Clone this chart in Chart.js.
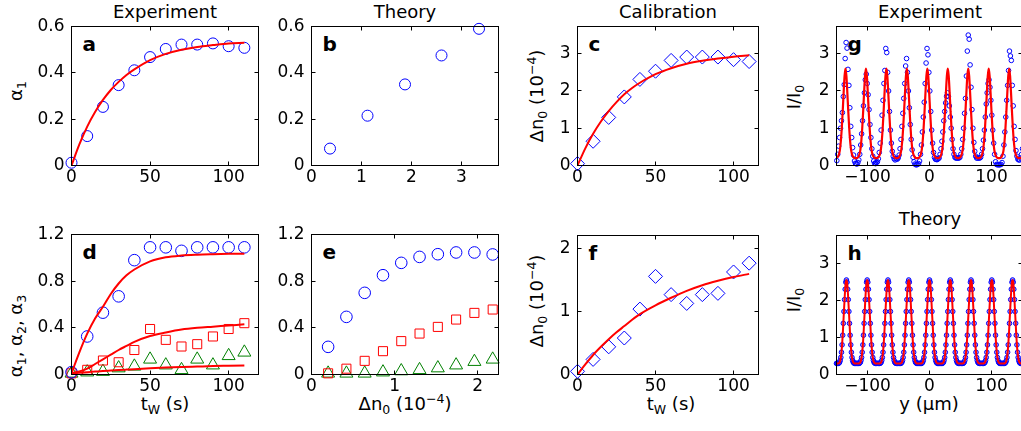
<!DOCTYPE html>
<html><head><meta charset="utf-8">
<script src="https://cdn.jsdelivr.net/npm/chart.js@4.4.1/dist/chart.umd.min.js"></script>
<style>
html,body{margin:0;padding:0;overflow:hidden;background:#fff;}
body{position:relative;width:1021px;height:431px;font-family:"DejaVu Sans",sans-serif;color:#000;}
canvas{position:absolute;}
.t{position:absolute;font-size:18px;line-height:18px;white-space:nowrap;}
.c{transform:translateX(-50%);}
.r{transform:translate(-50%,-50%) rotate(-90deg);}
.lt{position:absolute;font-weight:bold;font-size:20px;line-height:20px;}
sub,sup{font-size:12.5px;line-height:0;}
sub{vertical-align:-4px;} sup{vertical-align:7px;}
</style></head><body>
<div class="t c" style="left:165px;top:2.8px">Experiment</div>
<div class="t c" style="left:405px;top:2.8px">Theory</div>
<div class="t c" style="left:668px;top:2.8px">Calibration</div>
<div class="t c" style="left:930px;top:2.8px">Experiment</div>
<div class="t c" style="left:930px;top:209.6px">Theory</div>

<div class="lt" style="left:82.5px;top:33.6px">a</div>
<div class="lt" style="left:322.5px;top:33.6px">b</div>
<div class="lt" style="left:588.5px;top:33.6px">c</div>
<div class="lt" style="left:847.5px;top:33.6px">g</div>
<div class="lt" style="left:82.5px;top:241.6px">d</div>
<div class="lt" style="left:322.5px;top:241.6px">e</div>
<div class="lt" style="left:588.5px;top:242.6px">f</div>
<div class="lt" style="left:847.5px;top:242.6px">h</div>

<div class="t r" style="left:15.5px;top:91px">α<sub>1</sub></div>
<div class="t r" style="left:537px;top:96px">Δn<sub>0</sub> (10<sup>−4</sup>)</div>
<div class="t r" style="left:794px;top:97px">I/I<sub>0</sub></div>
<div class="t r" style="left:15.5px;top:336px">α<sub>1</sub>, α<sub>2</sub>, α<sub>3</sub></div>
<div class="t r" style="left:537px;top:301px">Δn<sub>0</sub> (10<sup>−4</sup>)</div>
<div class="t r" style="left:794px;top:300px">I/I<sub>0</sub></div>

<div class="t c" style="left:165px;top:394.8px">t<sub>W</sub> (s)</div>
<div class="t c" style="left:405px;top:394.8px">Δn<sub>0</sub> (10<sup>−4</sup>)</div>
<div class="t c" style="left:671px;top:394.8px">t<sub>W</sub> (s)</div>
<div class="t c" style="left:929px;top:394.8px">y (μm)</div>

<script>
// ---------------- DATA ----------------
const tW   = [0,10,20,30,40,50,60,70,80,90,100,110];
const fitT = [0,5,10,15,20,25,30,35,40,50,60,70,80,90,100,110];

// panel a
const alpha1Exp    = [0.012,0.127,0.253,0.347,0.411,0.468,0.503,0.522,0.522,0.527,0.515,0.508];
const alpha1ExpFit = [0,0.091,0.168,0.231,0.283,0.326,0.361,0.391,0.415,0.455,0.482,0.500,0.512,0.520,0.527,0.530];

// panel b
const dn0Theory1 = [0.37,1.12,1.87,2.6,3.35];
const alpha1Th1  = [0.073,0.215,0.35,0.475,0.59];

// panel c
const dn0Cal    = [0.05,0.65,1.29,1.84,2.31,2.53,2.82,2.91,2.91,2.91,2.84,2.79];
const dn0CalFit = [0,0.46,0.85,1.18,1.46,1.70,1.91,2.08,2.22,2.45,2.61,2.73,2.81,2.87,2.92,2.96];

// panel d
const alpha1D = [0.02,0.326,0.53,0.67,0.98,1.09,1.09,1.06,1.09,1.09,1.09,1.09];
const alpha2D = [0.01,0.04,0.12,0.105,0.21,0.39,0.297,0.24,0.26,0.326,0.39,0.44];
const alpha3D = [0.01,0.02,0.025,0.055,0.07,0.13,0.08,0.04,0.13,0.08,0.16,0.19];
const alpha1DFit = [0.01,0.19,0.35,0.48,0.58,0.69,0.78,0.85,0.90,0.97,1.005,1.02,1.027,1.031,1.034,1.036];
const alpha2DFit = [0.01,0.025,0.05,0.09,0.13,0.17,0.21,0.245,0.28,0.33,0.36,0.385,0.40,0.41,0.42,0.43];
const alpha3DFit = [0.01,0.015,0.02,0.025,0.03,0.034,0.038,0.042,0.046,0.053,0.059,0.064,0.068,0.072,0.075,0.078];

// panel e
const dn0E    = [0.2,0.42,0.64,0.86,1.08,1.30,1.52,1.74,1.96,2.18];
const alpha1E = [0.237,0.494,0.70,0.851,0.957,1.008,1.031,1.046,1.046,1.029];
const alpha2E = [0.01,0.05,0.117,0.2,0.286,0.351,0.408,0.471,0.528,0.557];
const alpha3E = [0.01,0.01,0.01,0.02,0.03,0.04,0.055,0.08,0.11,0.13];

// panel f
const dn0Cal2    = [0.05,0.24,0.44,0.58,1.04,1.56,1.27,1.13,1.27,1.29,1.63,1.77];
const dn0Cal2Fit = [0,0.16,0.31,0.44,0.56,0.67,0.77,0.87,0.96,1.10,1.22,1.33,1.42,1.49,1.55,1.60];

// panel g : measured intensity around each fringe (y in µm relative to fringe centre)
const gExpCenters = [-134.5,-102,-70.5,-37,-4,29,62.5,96,129];
const gExpOffsets = [-16.5,-15,-13.5,-12,-10.5,-9,-7.5,-6,-4.5,-3,-1.5,0,1.5,3,4.5,6,7.5,9,10.5,12,13.5,15,16.5,18,19.5,21];
const gExpFringe1 = [0.1,0.13,0.3,0.52,0.75,1.0,1.2,1.42,1.85,2.17,2.87,3.3,3.15,2.58,2.15,1.55,1.05,0.75,0.48,0.28,0.12,0.06];
const gExpFringe2 = [0.05,0.04,0.08,0.15,0.3,0.55,0.85,1.2,1.6,1.95,2.3,2.45,2.2,1.9,1.5,1.1,0.75,0.45,0.25,0.12,0.06,0.05];
const gExpFringe3 = [0.06,0.08,0.1,0.18,0.35,0.6,0.95,1.35,1.75,2.2,2.55,3.14,3.03,2.5,2.0,1.45,0.95,0.6,0.38,0.25,0.18,0.15];
const gExpFringe4 = [0.18,0.17,0.2,0.28,0.45,0.7,1.05,1.4,1.8,2.2,2.67,2.87,2.5,2.0,1.55,1.1,0.7,0.42,0.22,0.1,0.04,0.02];
const gExpFringe5 = [0.02,0.03,0.05,0.12,0.3,0.55,0.9,1.3,1.7,2.2,2.75,3.14,2.97,2.5,2.0,1.45,0.95,0.6,0.35,0.22,0.17,0.16];
const gExpFringe6 = [0.16,0.18,0.2,0.3,0.45,0.65,0.9,1.2,1.45,1.68,1.86,1.95,1.85,1.6,1.3,1.0,0.7,0.45,0.3,0.22,0.2,0.2];
const gExpFringe7 = [0.2,0.2,0.22,0.3,0.45,0.7,1.0,1.4,1.8,2.4,3.07,3.5,3.39,2.7,2.1,1.5,1.0,0.62,0.38,0.25,0.2,0.2];
const gExpFringe8 = [0.2,0.2,0.22,0.3,0.45,0.68,0.95,1.3,1.65,1.95,2.2,2.3,2.1,1.75,1.35,0.95,0.6,0.3,0.1,0.03,0.02,0.02];
const gExpFringe9 = [0.02,0.02,0.03,0.08,0.25,0.55,0.9,1.3,1.75,2.15,2.55,3.07,2.94,2.82,2.15,1.6,1.05,0.7,0.4,0.25,0.17,0.15,0.15,0.2,0.3,0.45];
const gExpFringes = [gExpFringe1,gExpFringe2,gExpFringe3,gExpFringe4,gExpFringe5,gExpFringe6,gExpFringe7,gExpFringe8,gExpFringe9];
// panel g : fitted fringe profile
const gFitCenters = [-168.5,-135.5,-102.5,-69.5,-36.5,-3.5,29.5,62.5,95.5,128.5,161.5];
const gFitOffsets = [-16.5,-15,-13.5,-12,-10.5,-9,-7.5,-6,-4.5,-3,-1.5,0,1.5,3,4.5,6,7.5,9,10.5,12,13.5,15];
const gFitProfile = [0.2,0.2,0.21,0.24,0.3,0.42,0.65,1.0,1.45,1.95,2.4,2.6,2.4,1.95,1.45,1.0,0.65,0.42,0.3,0.24,0.21,0.2];

// panel h : theory fringe profile
const hCenters = [-134,-100.5,-67,-33.5,0,33.5,67,100.5,134];
const hOffsets = [-16,-15,-14,-13,-12,-11,-10,-9,-8,-7,-6,-5,-4,-3,-2,-1,0,1,2,3,4,5,6,7,8,9,10,11,12,13,14,15,16];
const hProfile = [0.3,0.3,0.3,0.3,0.31,0.33,0.38,0.46,0.6,0.8,1.06,1.38,1.7,2.02,2.3,2.49,2.55,2.49,2.3,2.02,1.7,1.38,1.06,0.8,0.6,0.46,0.38,0.33,0.31,0.3,0.3,0.3,0.3];

// tick values
const ticksT    = [0,50,100];
const ticksA    = [0,0.2,0.4,0.6];
const ticksB    = [0,1,2,3];
const ticksN    = [0,1,2,3];
const ticksD    = [0,0.4,0.8,1.2];
const ticksE    = [0,1,2];
const ticksF    = [0,1,2];
const ticksY    = [-100,0,100];
const ticksI    = [0,1,2,3];

// ---------------- HELPERS ----------------
function pts(xs, ys){ return xs.map((x,i)=>({x:x, y:ys[i]})); }
function tiled(centers, offsets, profiles, lo, hi){
  const out = [];
  centers.forEach((c,k)=>{
    const prof = Array.isArray(profiles[0]) ? profiles[k] : profiles;
    prof.forEach((v,i)=>{ const x = c + offsets[i]; if (x >= lo && x <= hi) out.push({x:x, y:v}); });
  });
  return out;
}
const BLUE='#0000ff', RED='#ff0000', GREEN='#008000';
function marks(data, style, r, color, extra){
  return Object.assign({data:data, showLine:false, pointStyle:style, pointRadius:r, pointHoverRadius:r,
    pointBorderColor:color, pointBackgroundColor:'rgba(0,0,0,0)', pointBorderWidth:1, borderColor:color, clip:false}, extra||{});
}
function fitLine(data, w){
  return {data:data, showLine:true, pointRadius:0, borderColor:RED, borderWidth:w||2, cubicInterpolationMode:'monotone', fill:false};
}
function fmt(v){ return (v<0?'\u2212':'') + Math.abs(v); }

Chart.defaults.font.family = '"DejaVu Sans", sans-serif';
Chart.defaults.font.size = 17;
Chart.defaults.color = '#000';

const boxPlugin = {
  id:'axbox',
  afterDatasetsDraw(chart){
    const ctx = chart.ctx, a = chart.chartArea, xs = chart.scales.x, ys = chart.scales.y;
    const L = 4;
    ctx.save();
    ctx.strokeStyle = '#000'; ctx.lineWidth = 1;
    ctx.beginPath();
    xs.ticks.forEach(t=>{
      const X = Math.round(xs.getPixelForValue(t.value)-0.5)+0.5;
      ctx.moveTo(X, a.bottom); ctx.lineTo(X, a.bottom-L);
      ctx.moveTo(X, a.top); ctx.lineTo(X, a.top+L);
    });
    ys.ticks.forEach(t=>{
      const Y = Math.round(ys.getPixelForValue(t.value)-0.5)+0.5;
      ctx.moveTo(a.left, Y); ctx.lineTo(a.left+L, Y);
      ctx.moveTo(a.right, Y); ctx.lineTo(a.right-L, Y);
    });
    ctx.stroke();
    ctx.strokeRect(a.left, a.top, a.right-a.left, a.bottom-a.top);
    ctx.restore();
  }
};

function makeChart(box, xr, yr, xT, yT, datasets){
  const cl = Math.floor(box.l) - 60, ct = Math.floor(box.t) - 22;
  const W = Math.ceil(box.r) + 14 - cl, H = Math.ceil(box.b) + 32 - ct;
  const cv = document.createElement('canvas');
  cv.width = W; cv.height = H;
  cv.style.left = cl+'px'; cv.style.top = ct+'px'; cv.style.width = W+'px'; cv.style.height = H+'px';
  document.body.appendChild(cv);
  const yW = box.l - cl, xH = ct + H - box.b, padT = box.t - ct, padR = cl + W - box.r;
  new Chart(cv, {
    type:'scatter',
    data:{datasets:datasets},
    options:{
      responsive:false, animation:false, devicePixelRatio:1,
      layout:{padding:{left:0, top:padT, right:padR, bottom:0}},
      events:[],
      scales:{
        x:{type:'linear', min:xr[0], max:xr[1],
           grid:{display:false, drawTicks:false}, border:{display:false},
           afterBuildTicks:s=>{ s.ticks = xT.map(v=>({value:v})); },
           afterFit:s=>{ s.height = xH; },
           ticks:{autoSkip:false, maxRotation:0, minRotation:0, padding:2, callback:v=>fmt(v)}},
        y:{type:'linear', min:yr[0], max:yr[1],
           grid:{display:false, drawTicks:false}, border:{display:false},
           afterBuildTicks:s=>{ s.ticks = yT.map(v=>({value:v})); },
           afterFit:s=>{ s.width = yW; },
           ticks:{autoSkip:false, padding:7, callback:v=>fmt(v)}}
      },
      plugins:{legend:{display:false}, tooltip:{enabled:false}, title:{display:false}}
    },
    plugins:[boxPlugin]
  });
}

// ---------------- PANELS ----------------
const P = {
  a:{l:71.5, t:26.5, r:258.5, b:165.5},
  b:{l:311.5,t:26.5, r:498.5, b:165.5},
  c:{l:577.5,t:26.5, r:758.5, b:165.5},
  g:{l:836.5,t:26.5, r:1022.5,b:165.5},
  d:{l:71.5, t:234.5,r:258.5, b:374.5},
  e:{l:311.5,t:234.5,r:498.5, b:374.5},
  f:{l:577.5,t:235.5,r:758.5, b:374.5},
  h:{l:836.5,t:235.5,r:1022.5,b:374.5}
};

makeChart(P.a, [0,119], [0,0.6], ticksT, ticksA, [
  fitLine(pts(fitT, alpha1ExpFit)),
  marks(pts(tW, alpha1Exp), 'circle', 5.5, BLUE)
]);
makeChart(P.b, [0,3.74], [0,0.6], ticksB, ticksA, [
  marks(pts(dn0Theory1, alpha1Th1), 'circle', 5.5, BLUE)
]);
makeChart(P.c, [0,116], [0,3.73], ticksT, ticksN, [
  fitLine(pts(fitT, dn0CalFit)),
  marks(pts(tW, dn0Cal), 'rectRot', 7, BLUE)
]);
makeChart(P.g, [-150,150], [0,3.73], ticksY, ticksI, [
  fitLine(tiled(gFitCenters, gFitOffsets, gFitProfile, -150, 150), 2.2),
  marks(tiled(gExpCenters, gExpOffsets, gExpFringes, -150, 150), 'circle', 2.3, BLUE)
]);
makeChart(P.d, [0,119], [0,1.2], ticksT, ticksD, [
  fitLine(pts(fitT, alpha1DFit)),
  fitLine(pts(fitT, alpha2DFit)),
  fitLine(pts(fitT, alpha3DFit)),
  marks(pts(tW, alpha1D), 'circle', 5.8, BLUE),
  marks(pts(tW, alpha2D), 'rect', 6.4, RED),
  marks(pts(tW, alpha3D), 'triangle', 7.5, GREEN)
]);
makeChart(P.e, [0,2.25], [0,1.2], ticksE, ticksD, [
  marks(pts(dn0E, alpha1E), 'circle', 5.8, BLUE),
  marks(pts(dn0E, alpha2E), 'rect', 6.4, RED),
  marks(pts(dn0E, alpha3E), 'triangle', 7.5, GREEN)
]);
makeChart(P.f, [0,116], [0,2.21], ticksT, ticksF, [
  fitLine(pts(fitT, dn0Cal2Fit)),
  marks(pts(tW, dn0Cal2), 'rectRot', 7, BLUE)
]);
makeChart(P.h, [-150,150], [0,3.75], ticksY, ticksI, [
  fitLine(tiled(hCenters, hOffsets, hProfile, -150, 150), 2),
  marks(tiled(hCenters, hOffsets, hProfile, -150, 150), 'circle', 2.3, BLUE, {pointBackgroundColor:'rgba(90,90,255,0.55)'})
]);
</script>
</body></html>
